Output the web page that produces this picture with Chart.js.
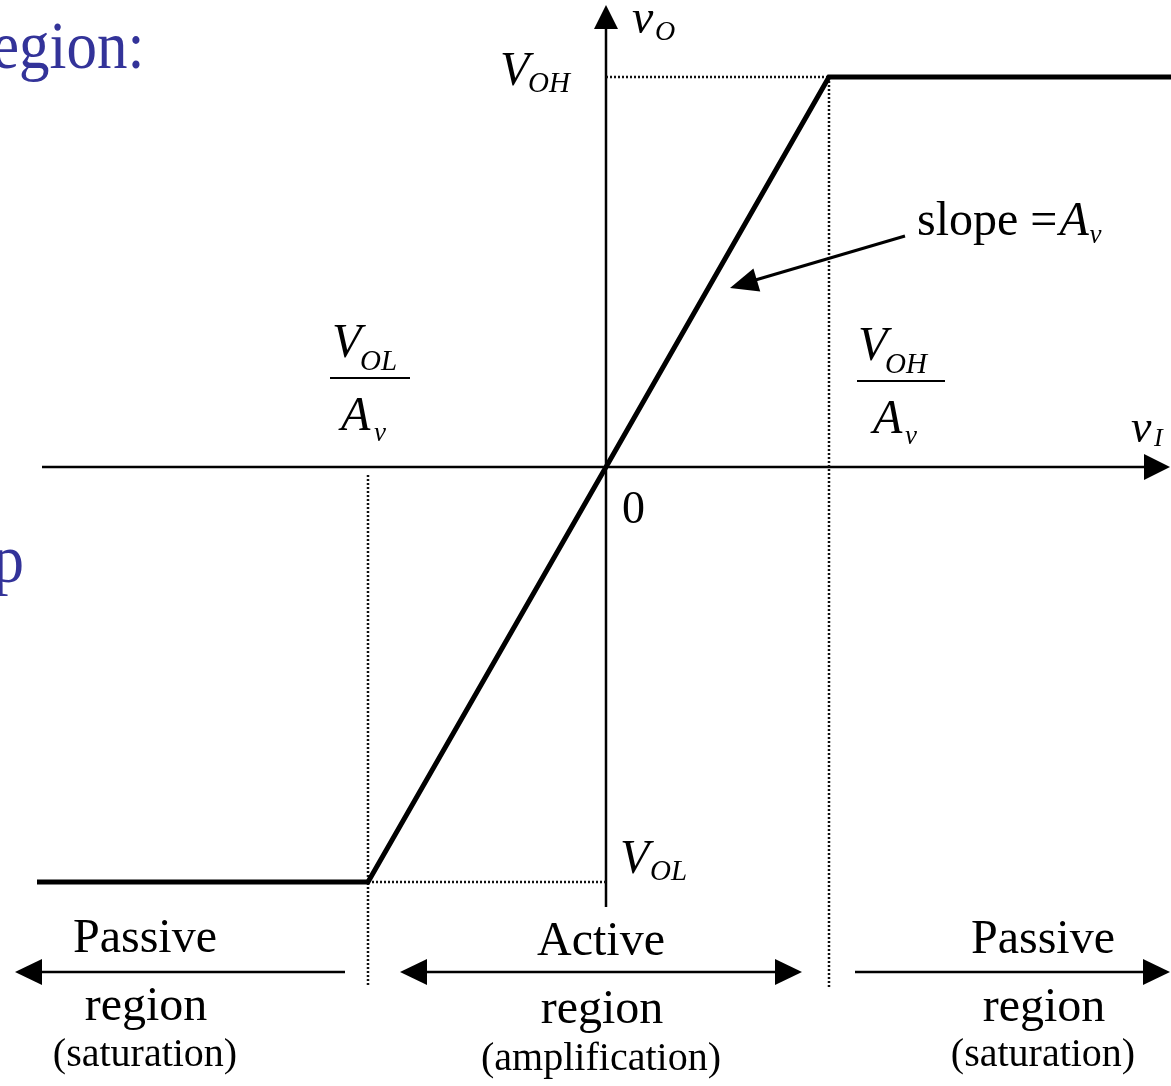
<!DOCTYPE html>
<html>
<head>
<meta charset="utf-8">
<title>Transfer characteristic</title>
<script src="https://cdn.jsdelivr.net/npm/chart.js@4.4.1/dist/chart.umd.min.js"></script>
<style>
  html, body { margin: 0; padding: 0; background: #fff; overflow: hidden; }
  canvas { display: block; }
</style>
</head>
<body>
<canvas id="myChart" width="1171" height="1086"></canvas>
<script>
// curva de transferencia vO = f(vI)
const vIn = [-5.69, -2.38, 0, 2.23, 5.65];
const vOut = [-4.15, -4.15, 0, 3.90, 3.90];

// puntos de quiebre: VOL/Av y VOH/Av, niveles VOL y VOH
const breakX = [-2.38, 2.23];
const levels = [-4.15, 3.90];

// textos de las regiones
const regionTitles = ["Passive", "Active", "Passive"];
const regionNotes = ["(saturation)", "(amplification)", "(saturation)"];

const SERIF = '"Liberation Serif", "Times New Roman", Times, serif';
const $grafica = document.querySelector("#myChart");

function font(size, italic) {
    return (italic ? 'italic ' : '') + size + 'px ' + SERIF;
}

function texto(ctx, s, x, y, size, italic, align) {
    ctx.font = font(size, italic);
    ctx.textAlign = align || 'left';
    ctx.fillText(s, x, y);
    return ctx.measureText(s).width;
}

// letra con subindice, x = borde izquierdo
function conSub(ctx, main, sub, x, y, size, subX, subY, subSize) {
    texto(ctx, main, x, y, size, true);
    texto(ctx, sub, subX, subY, subSize, true);
}

function flecha(ctx, x1, y1, x2, y2, len, half) {
    const a = Math.atan2(y2 - y1, x2 - x1);
    ctx.beginPath();
    ctx.moveTo(x2, y2);
    ctx.lineTo(x2 - len * Math.cos(a) + half * Math.sin(a), y2 - len * Math.sin(a) - half * Math.cos(a));
    ctx.lineTo(x2 - len * Math.cos(a) - half * Math.sin(a), y2 - len * Math.sin(a) + half * Math.cos(a));
    ctx.closePath();
    ctx.fill();
}

function linea(ctx, x1, y1, x2, y2) {
    ctx.beginPath();
    ctx.moveTo(x1, y1);
    ctx.lineTo(x2, y2);
    ctx.stroke();
}

const ejes = {
    id: 'ejes',
    beforeDatasetsDraw(chart) {
        const ctx = chart.ctx;
        const x0 = chart.scales.x.getPixelForValue(0);
        const y0 = chart.scales.y.getPixelForValue(0);
        ctx.save();
        ctx.strokeStyle = '#000';
        ctx.fillStyle = '#000';
        ctx.lineWidth = 2.5;
        // eje vI
        linea(ctx, 42, y0, 1150, y0);
        flecha(ctx, 42, y0, 1170, y0, 26, 13);
        // eje vO
        linea(ctx, x0, 907, x0, 25);
        flecha(ctx, x0, 907, x0, 5, 24, 12);
        ctx.restore();
    },
    afterDatasetsDraw(chart) {
        const ctx = chart.ctx;
        const sx = chart.scales.x;
        const xL = sx.getPixelForValue(breakX[0]);
        const xH = sx.getPixelForValue(breakX[1]);
        ctx.save();
        ctx.fillStyle = '#000';
        ctx.strokeStyle = '#000';
        ctx.textBaseline = 'alphabetic';

        // texto de la diapositiva, cortado a la izquierda
        ctx.fillStyle = '#333399';
        ctx.save();
        ctx.translate(0, 68);
        ctx.scale(1, 1.1);
        texto(ctx, 'egion:', -8, 0, 61, false);
        ctx.restore();
        ctx.save();
        ctx.translate(0, 582);
        ctx.scale(1, 1.1);
        texto(ctx, 'p', -7, 0, 62, false);
        ctx.restore();
        ctx.fillStyle = '#000';

        // etiquetas de los ejes
        conSub(ctx, 'v', 'O', 632, 33, 48, 655, 40, 28);
        conSub(ctx, 'v', 'I', 1131, 442, 46, 1154, 446, 26);
        conSub(ctx, 'V', 'OH', 500, 85, 48, 528, 92, 29);
        conSub(ctx, 'V', 'OL', 620, 873, 48, 650, 880, 29);
        texto(ctx, '0', 622, 523, 46, false);

        // fracciones VOL/Av y VOH/Av
        ctx.lineWidth = 2;
        conSub(ctx, 'V', 'OL', xL - 36, 357, 48, xL - 8, 370, 29);
        linea(ctx, xL - 38, 378, xL + 42, 378);
        conSub(ctx, 'A', 'v', xL - 27, 430, 48, xL + 6, 441, 27);

        conSub(ctx, 'V', 'OH', xH + 29, 360, 48, xH + 56, 373, 29);
        linea(ctx, xH + 28, 381, xH + 116, 381);
        conSub(ctx, 'A', 'v', xH + 44, 433, 48, xH + 76, 444, 27);

        // pendiente
        const w = texto(ctx, 'slope =', 917, 235, 48, false);
        texto(ctx, 'A', 917 + w + 2, 235, 48, true);
        texto(ctx, 'v', 917 + w + 32, 243, 27, true);
        ctx.lineWidth = 3;
        linea(ctx, 905, 236, 752, 281);
        flecha(ctx, 905, 236, 730, 288, 28, 12);

        // regiones
        ctx.lineWidth = 2.5;
        const yA = 972;
        linea(ctx, 345, yA, 35, yA);
        flecha(ctx, 345, yA, 15, yA, 27, 13);
        linea(ctx, 420, yA, 782, yA);
        flecha(ctx, 600, yA, 400, yA, 27, 13);
        flecha(ctx, 600, yA, 802, yA, 27, 13);
        linea(ctx, 855, yA, 1150, yA);
        flecha(ctx, 855, yA, 1170, yA, 27, 13);

        const centros = [145, 601, 1043];
        const base = [[952, 1020, 1066], [955, 1023, 1070], [953, 1021, 1066]];
        centros.forEach((c, i) => {
            texto(ctx, regionTitles[i], c, base[i][0], 48, false, 'center');
            texto(ctx, 'region', c + 1, base[i][1], 48, false, 'center');
            texto(ctx, regionNotes[i], c, base[i][2], 40, false, 'center');
        });
        ctx.restore();
    }
};

const guia = {
    borderColor: '#111',
    borderWidth: 2.5,
    borderDash: [2, 2],
    pointRadius: 0,
    fill: false
};

var myChart = new Chart($grafica, {
    type: 'line',
    data: {
        datasets: [
            {
                data: vIn.map((x, i) => ({ x: x, y: vOut[i] })),
                borderColor: '#000',
                borderWidth: 5,
                borderJoinStyle: 'miter',
                pointRadius: 0,
                tension: 0,
                fill: false
            },
            Object.assign({ data: [{ x: 0, y: levels[1] }, { x: breakX[1], y: levels[1] }] }, guia),
            Object.assign({ data: [{ x: breakX[0], y: levels[0] }, { x: 0, y: levels[0] }] }, guia),
            Object.assign({ data: [{ x: breakX[0], y: -0.08 }, { x: breakX[0], y: -5.18 }] }, guia),
            Object.assign({ data: [{ x: breakX[1], y: levels[1] }, { x: breakX[1], y: -5.21 }] }, guia)
        ]
    },
    options: {
        responsive: false,
        animation: false,
        devicePixelRatio: 1,
        layout: { padding: 0 },
        plugins: { legend: { display: false }, tooltip: { enabled: false } },
        scales: {
            x: { type: 'linear', display: false, min: -6.06, max: 5.65 },
            y: { type: 'linear', display: false, min: -6.19, max: 4.67 }
        }
    },
    plugins: [ejes]
});
</script>
</body>
</html>
